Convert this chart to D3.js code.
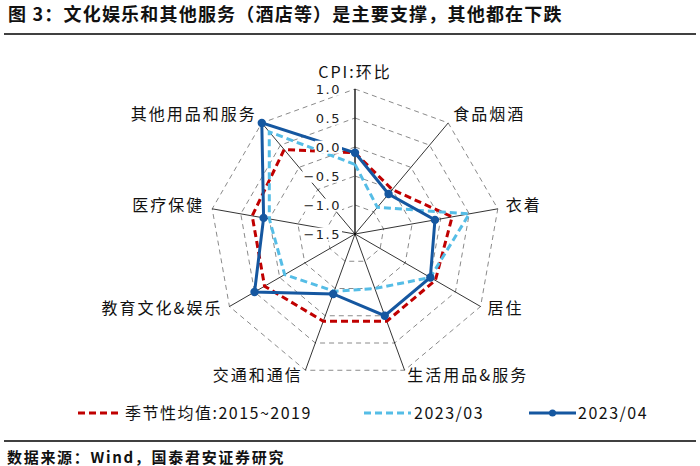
<!DOCTYPE html>
<html><head><meta charset="utf-8">
<script src="https://cdn.jsdelivr.net/npm/d3@7"></script>
<style>body{margin:0;background:#fff}svg{display:block}</style>
</head><body>
<svg id="c" width="700" height="466"></svg>
<script>
const categories = ["CPI:环比","食品烟酒","衣着","居住","生活用品&服务","交通和通信","教育文化&娱乐","医疗保健","其他用品和服务"];
const seasonal = [-0.1, -0.5, 0.2, 0.1, 0.1, 0.1, 0.3, 0.3, 0.4];
const mar2023 = [-0.3, -0.9, 0.5, 0.0, -0.5, -0.45, -0.1, 0.0, 0.8];
const apr2023 = [-0.1, -0.6, -0.1, 0.0, 0.0, -0.4, 0.5, 0.1, 1.0];
const ticks = [1.0, 0.5, 0.0, -0.5, -1.0, -1.5];
const seriesNames = ["季节性均值:2015~2019","2023/03","2023/04"];

const svg = d3.select("#c");
const cx = 355, cy = 234, R = 145;
const r = d3.scaleLinear().domain([-1.5, 1.0]).range([0, R]);
const ang = d3.scaleLinear().domain([0, categories.length]).range([0, 2*Math.PI]);
const pt = (i, v) => [cx + r(v)*Math.sin(ang(i)), cy - r(v)*Math.cos(ang(i))];

// title
svg.append("text").attr("x", 8).attr("y", 15).attr("dy","0.36em").attr("font-family","Noto Sans CJK SC").attr("font-weight",700)
  .attr("font-size",18).attr("letter-spacing","1.2px").attr("fill","#111").text("图 3：文化娱乐和其他服务（酒店等）是主要支撑，其他都在下跌");
svg.append("line").attr("x1",4).attr("x2",696).attr("y1",34).attr("y2",34).attr("stroke","#000").attr("stroke-width",1.5);

// grid rings
const g = svg.append("g");
ticks.filter(t => t > -1.5).forEach(t => {
  const pts = categories.map((c,i) => pt(i,t));
  g.append("polygon").attr("points", pts.map(p=>p.join(",")).join(" "))
    .attr("fill","none").attr("stroke","#8a8a8a").attr("stroke-width",1).attr("stroke-dasharray","5,4");
});
// spokes
categories.forEach((c,i) => {
  const p = pt(i, 1.0);
  g.append("line").attr("x1",cx).attr("y1",cy).attr("x2",p[0]).attr("y2",p[1])
    .attr("stroke","#000").attr("stroke-width", i===0?1.3:0.8);
});

// series
const line = d3.line().x(d=>d[0]).y(d=>d[1]).curve(d3.curveLinearClosed);
const mk = vals => vals.map((v,i)=>pt(i,v));
g.append("path").attr("d", line(mk(seasonal))).attr("fill","none").attr("stroke","#C00000")
  .attr("stroke-width",3).attr("stroke-dasharray","7,4");
g.append("path").attr("d", line(mk(mar2023))).attr("fill","none").attr("stroke","#55BDE6")
  .attr("stroke-width",3).attr("stroke-dasharray","7,4");
g.append("path").attr("d", line(mk(apr2023))).attr("fill","none").attr("stroke","#1557A0")
  .attr("stroke-width",3);
g.selectAll("circle.a").data(mk(apr2023)).enter().append("circle")
  .attr("cx",d=>d[0]).attr("cy",d=>d[1]).attr("r",4.2).attr("fill","#1557A0");

// tick labels with white background
const fmt = d3.format(".1f");
ticks.forEach(t => {
  const y = cy - r(t);
  const txt = fmt(t).replace("-","−");
  const tg = svg.append("g");
  const el = tg.append("text").attr("x", 341).attr("y", y).attr("dy","0.36em").attr("text-anchor","end")
    .attr("font-family","DejaVu Sans").attr("font-size",13).attr("letter-spacing","1.5px").attr("fill","#222").text(txt);
  const bb = el.node().getBBox();
  tg.insert("rect","text").attr("x",bb.x-1).attr("y",bb.y+1).attr("width",bb.width+2).attr("height",bb.height-2).attr("fill","#fff");
});

// category labels
categories.forEach((c,i) => {
  const a = ang(i);
  const p = pt(i, 1.0);
  const s = Math.sin(a), co = Math.cos(a);
  let anchor = Math.abs(s) < 0.1 ? "middle" : (s > 0 ? "start" : "end");
  let x = p[0] + s*8, y = p[1] - co*8 - 2;
  if (i===0) { y = p[1] - 17; }
  svg.append("text").attr("x",x).attr("y",y).attr("dy","0.35em").attr("text-anchor",anchor)
    .attr("font-family","Noto Sans CJK SC").attr("font-size",16).attr("letter-spacing","2px").attr("fill","#111").text(c);
});

// legend
const ly = 413;
const leg = [
  {x:78, w:43, color:"#C00000", dash:"7,4", dot:false, tx:125},
  {x:364, w:47, color:"#55BDE6", dash:"7,4", dot:false, tx:414},
  {x:529, w:47, color:"#1557A0", dash:null, dot:true, tx:578}
];
leg.forEach((l,k) => {
  svg.append("line").attr("x1",l.x).attr("x2",l.x+l.w).attr("y1",ly).attr("y2",ly)
    .attr("stroke",l.color).attr("stroke-width",3).attr("stroke-dasharray",l.dash);
  if (l.dot) svg.append("circle").attr("cx",l.x+l.w/2).attr("cy",ly).attr("r",3.5).attr("fill",l.color);
  svg.append("text").attr("x",l.tx).attr("y",ly).attr("dy","0.36em").attr("font-family","Noto Sans CJK SC")
    .attr("font-size",16).attr("letter-spacing","1.5px").attr("fill","#111").text(seriesNames[k]);
});

// footer
svg.append("line").attr("x1",4).attr("x2",696).attr("y1",441).attr("y2",441).attr("stroke","#000").attr("stroke-width",1.5);
svg.append("text").attr("x",7).attr("y",458).attr("dy","0.36em").attr("font-family","Noto Sans CJK SC").attr("font-weight",700)
  .attr("font-size",15).attr("letter-spacing","1.7px").attr("fill","#111").text("数据来源：Wind，国泰君安证券研究");
</script>
</body></html>
